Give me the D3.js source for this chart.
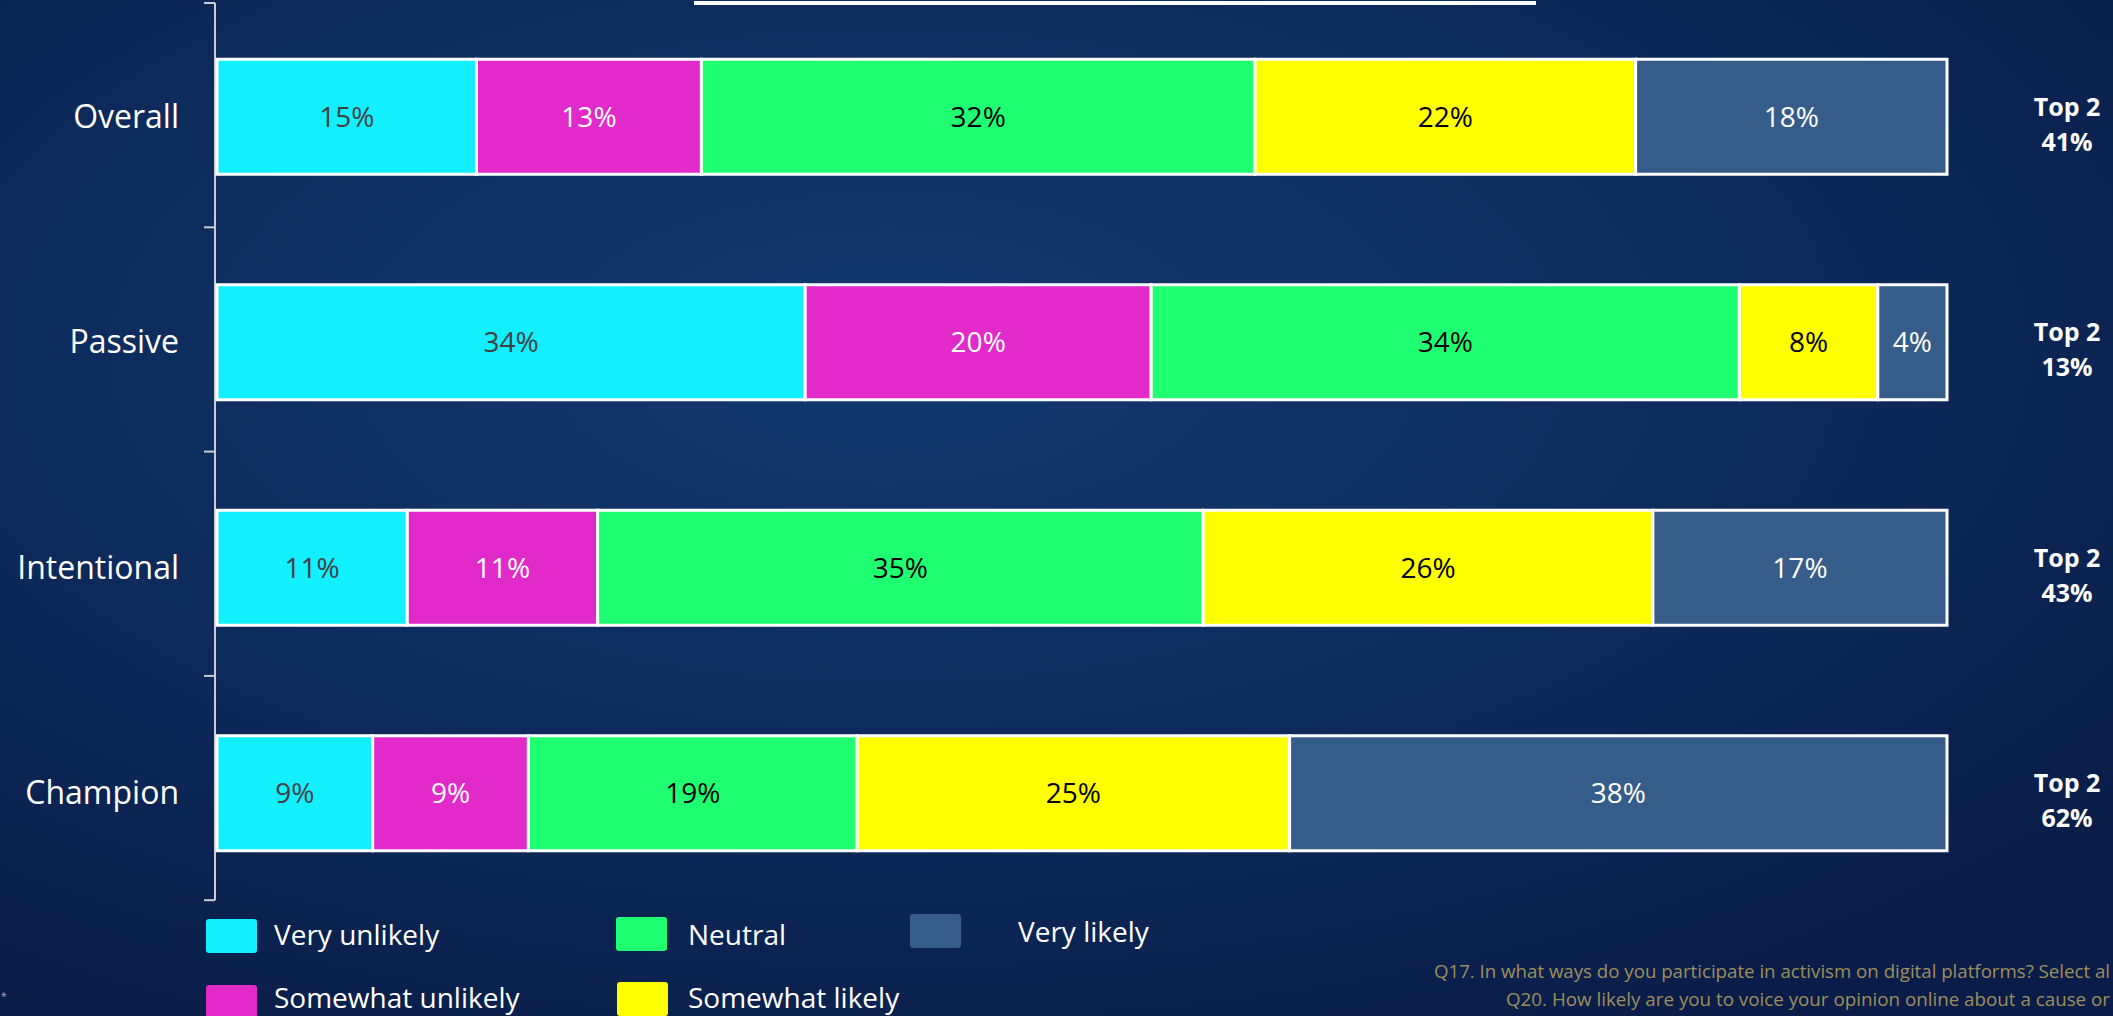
<!DOCTYPE html>
<html>
<head>
<meta charset="utf-8">
<script src="https://cdn.jsdelivr.net/npm/d3@7"></script>
<style>
  html, body { margin: 0; padding: 0; overflow: hidden; background: #0b2150; }
  svg { display: block; }
  text { font-family: "Open Sans", "Noto Sans", sans-serif; }
</style>
</head>
<body>
<svg id="chart" width="2113" height="1016"></svg>
<script>
// ---- data ----
const categories = ["Overall", "Passive", "Intentional", "Champion"];
const seriesNames = ["Very unlikely", "Somewhat unlikely", "Neutral", "Somewhat likely", "Very likely"];
const veryUnlikely     = [15, 34, 11, 9];
const somewhatUnlikely = [13, 20, 11, 9];
const neutral          = [32, 34, 35, 19];
const somewhatLikely   = [22, 8, 26, 25];
const veryLikely       = [18, 4, 17, 38];
const top2             = [41, 13, 43, 62];
const seriesColors     = ["#12EFFF", "#E22ACB", "#1FFF72", "#FFFF00", "#365C8A"];
const labelColors      = ["#404040", "#FFFFFF", "#000000", "#000000", "#FFFFFF"];
const footnotes = [
  "Q17. In what ways do you participate in activism on digital platforms? Select al",
  "Q20. How likely are you to voice your opinion online about a cause or"
];

// ---- build table ----
const seriesValues = [veryUnlikely, somewhatUnlikely, neutral, somewhatLikely, veryLikely];
const table = categories.map((c, i) => {
  const row = { category: c };
  seriesNames.forEach((s, j) => row[s] = seriesValues[j][i]);
  return row;
});
const stacked = d3.stack().keys(seriesNames)(table);

const svg = d3.select("#chart");
const W = 2113, H = 1016;

// background
const defs = svg.append("defs");
const grad = defs.append("radialGradient").attr("id", "bg")
  .attr("cx", "42%").attr("cy", "35%").attr("r", "75%");
grad.append("stop").attr("offset", "0%").attr("stop-color", "#13396f");
grad.append("stop").attr("offset", "55%").attr("stop-color", "#0d2b5c");
grad.append("stop").attr("offset", "100%").attr("stop-color", "#0a1d48");
svg.append("rect").attr("width", W).attr("height", H).attr("fill", "url(#bg)");

// title underline remnant (title itself lies above the visible area)
svg.append("rect").attr("x", 694).attr("y", 1).attr("width", 842).attr("height", 4).attr("fill", "#ffffff");

// scales
const slot = d3.scaleBand().domain(categories).range([4, 906]).padding(0);
const barH = 115;
const x = d3.scaleLinear().domain([0, 100]).range([217, 1947]);
const color = d3.scaleOrdinal().domain(seriesNames).range(seriesColors);
const lblColor = d3.scaleOrdinal().domain(seriesNames).range(labelColors);
const cy = c => slot(c) + slot.bandwidth() / 2;
const barY = c => cy(c) - barH / 2;

// axis line + ticks at slot boundaries
const axisG = svg.append("g");
const boundaries = d3.range(categories.length + 1).map(i => 3 + i * 224.3);
axisG.append("line")
  .attr("x1", 215).attr("x2", 215)
  .attr("y1", boundaries[0]).attr("y2", boundaries[boundaries.length - 1])
  .attr("stroke", "#c9ccd4").attr("stroke-width", 2);
axisG.selectAll("line.tick").data(boundaries).join("line")
  .attr("class", "tick")
  .attr("x1", 204).attr("x2", 215)
  .attr("y1", d => d).attr("y2", d => d)
  .attr("stroke", "#c9ccd4").attr("stroke-width", 2);

// category labels
svg.append("g").selectAll("text").data(categories).join("text")
  .attr("x", 179)
  .attr("y", d => cy(d) + 11)
  .attr("text-anchor", "end")
  .attr("fill", "#ffffff")
  .attr("font-size", 32)
  .text(d => d);

// bars
const layers = svg.append("g").selectAll("g").data(stacked).join("g")
  .attr("fill", d => color(d.key));
layers.selectAll("rect").data(d => d).join("rect")
  .attr("x", d => x(d[0]))
  .attr("y", d => barY(d.data.category))
  .attr("width", d => x(d[1]) - x(d[0]))
  .attr("height", barH)
  .attr("stroke", "#ffffff")
  .attr("stroke-width", 3);

// segment labels
const lblLayers = svg.append("g").selectAll("g").data(stacked).join("g")
  .attr("fill", d => lblColor(d.key));
lblLayers.selectAll("text").data(d => d).join("text")
  .attr("x", d => (x(d[0]) + x(d[1])) / 2)
  .attr("y", d => cy(d.data.category) + 10)
  .attr("text-anchor", "middle")
  .attr("font-size", 28)
  .text(d => (d[1] - d[0]) + "%");

// Top 2 labels
const t2 = svg.append("g").selectAll("text").data(categories).join("text")
  .attr("text-anchor", "middle")
  .attr("fill", "#ffffff")
  .attr("font-size", 25)
  .attr("font-weight", "bold");
t2.append("tspan").attr("x", 2067).attr("y", d => cy(d) - 1).text("Top 2");
t2.append("tspan").attr("x", 2067).attr("y", d => cy(d) + 34).text((d, i) => top2[i] + "%");

// legend
const legendPos = [
  { sx: 206, sy: 919, tx: 274, ty: 945 },
  { sx: 206, sy: 985, tx: 274, ty: 1008 },
  { sx: 616, sy: 917, tx: 688, ty: 945 },
  { sx: 617, sy: 982, tx: 688, ty: 1008 },
  { sx: 910, sy: 914, tx: 1018, ty: 942 }
];
const legend = svg.append("g").selectAll("g").data(seriesNames).join("g");
legend.append("rect")
  .attr("x", (d, i) => legendPos[i].sx).attr("y", (d, i) => legendPos[i].sy)
  .attr("width", 51).attr("height", 34).attr("rx", 3)
  .attr("fill", d => color(d));
legend.append("text")
  .attr("x", (d, i) => legendPos[i].tx).attr("y", (d, i) => legendPos[i].ty)
  .attr("fill", "#ffffff").attr("font-size", 28)
  .text(d => d);

// footnotes
svg.append("g").selectAll("text").data(footnotes).join("text")
  .attr("x", (d, i) => i === 0 ? 1434 : 1506)
  .attr("y", (d, i) => i === 0 ? 978 : 1006)
  .attr("fill", "#9e8f5c").attr("font-size", 18.5)
  .attr("textLength", (d, i) => i === 0 ? 676 : 604)
  .attr("lengthAdjust", "spacingAndGlyphs")
  .text(d => d);

// asterisk
svg.append("text").attr("x", 1).attr("y", 1000).attr("fill", "#aab").attr("font-size", 10).text("*");
</script>
</body>
</html>
